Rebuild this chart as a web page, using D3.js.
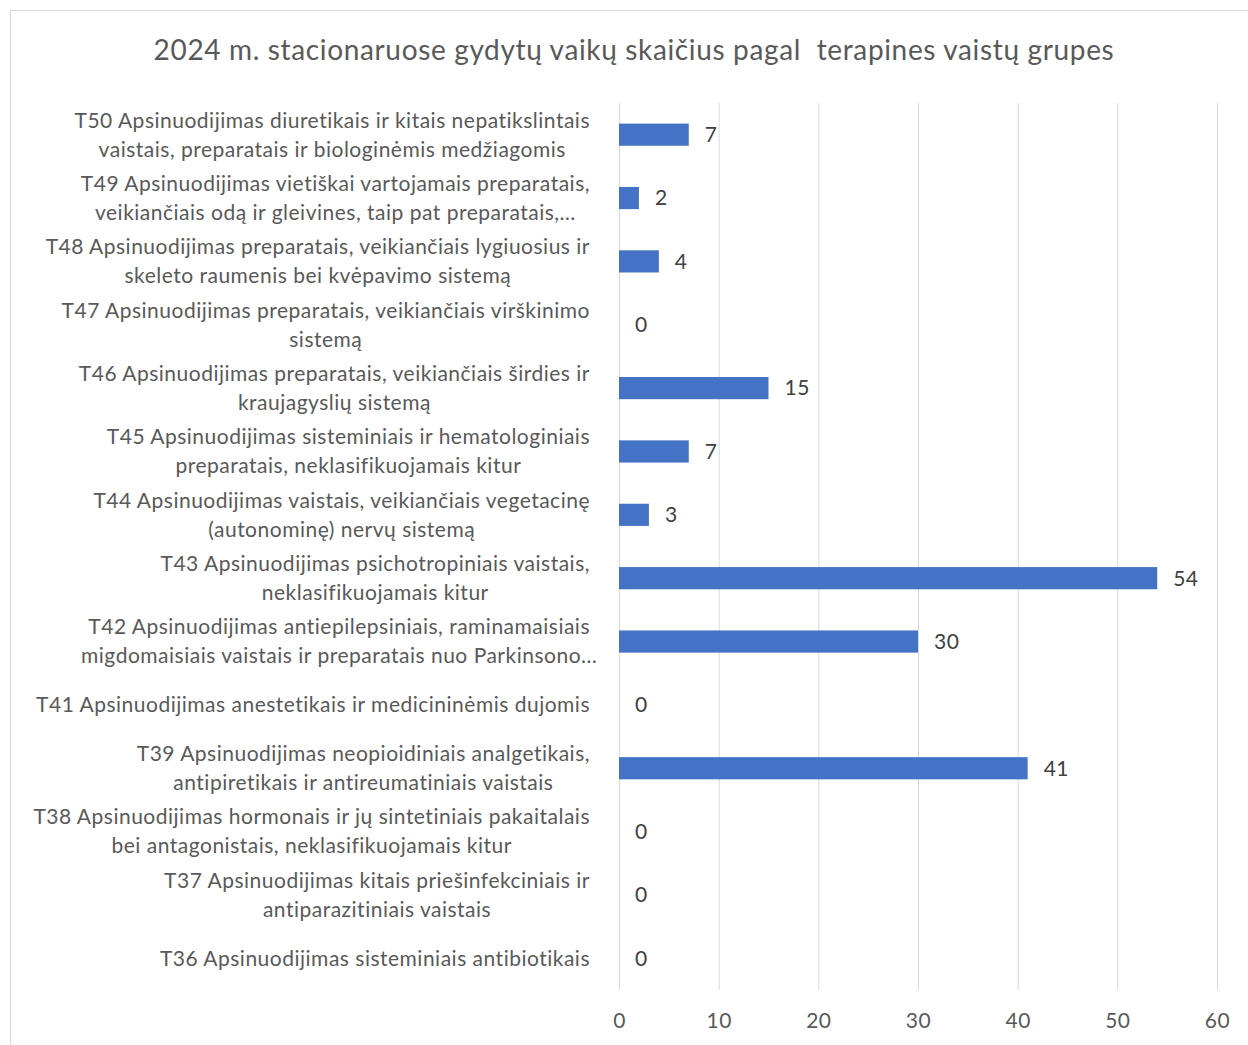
<!DOCTYPE html>
<html>
<head>
<meta charset="utf-8">
<script src="https://cdn.jsdelivr.net/npm/d3@7"></script>
<style>
  body { margin: 0; background: #fff; }
  text { font-family: Lato, "Open Sans", sans-serif; }
</style>
</head>
<body>
<svg width="1248" height="1045"></svg>
<script>
// kategorijos (eilutes po viena), is virsaus i apacia
var categories = [
  ["T50 Apsinuodijimas diuretikais ir kitais nepatikslintais", "vaistais, preparatais ir biologinėmis medžiagomis"],
  ["T49 Apsinuodijimas vietiškai vartojamais preparatais,", "veikiančiais odą ir gleivines, taip pat preparatais,…"],
  ["T48 Apsinuodijimas preparatais, veikiančiais lygiuosius ir", "skeleto raumenis bei kvėpavimo sistemą"],
  ["T47 Apsinuodijimas preparatais, veikiančiais virškinimo", "sistemą"],
  ["T46 Apsinuodijimas preparatais, veikiančiais širdies ir", "kraujagyslių sistemą"],
  ["T45 Apsinuodijimas sisteminiais ir hematologiniais", "preparatais, neklasifikuojamais kitur"],
  ["T44 Apsinuodijimas vaistais, veikiančiais vegetacinę", "(autonominę) nervų sistemą"],
  ["T43 Apsinuodijimas psichotropiniais vaistais,", "neklasifikuojamais kitur"],
  ["T42 Apsinuodijimas antiepilepsiniais, raminamaisiais", "migdomaisiais vaistais ir preparatais nuo Parkinsono…"],
  ["T41 Apsinuodijimas anestetikais ir medicininėmis dujomis"],
  ["T39 Apsinuodijimas neopioidiniais analgetikais,", "antipiretikais ir antireumatiniais vaistais"],
  ["T38 Apsinuodijimas hormonais ir jų sintetiniais pakaitalais", "bei antagonistais, neklasifikuojamais kitur"],
  ["T37 Apsinuodijimas kitais priešinfekciniais ir", "antiparazitiniais vaistais"],
  ["T36 Apsinuodijimas sisteminiais antibiotikais"]
];
var values = [7, 2, 4, 0, 15, 7, 3, 54, 30, 0, 41, 0, 0, 0];
var xTicks = [0, 10, 20, 30, 40, 50, 60];
var title = "2024 m. stacionaruose gydytų vaikų skaičius pagal\u00a0 terapines vaistų grupes";

var svg = d3.select("svg"),
    margin = { top: 103, right: 31, bottom: 55, left: 619 },
    width = 1248 - margin.left - margin.right,
    height = 1045 - margin.top - margin.bottom;

// remelis aplink diagrama
svg.append("rect")
    .attr("x", 10.5).attr("y", 10.5)
    .attr("width", 1300).attr("height", 1100)
    .attr("fill", "none").attr("stroke", "#d9d9d9");

svg.append("text")
    .attr("x", 634).attr("y", 60)
    .attr("text-anchor", "middle")
    .style("font-size", "28px")
    .style("letter-spacing", "0.65px")
    .style("fill", "#595959")
    .text(title);

var x = d3.scaleLinear().domain([0, 60]).range([0, width]),
    y = d3.scaleBand().domain(d3.range(categories.length)).range([0, height]).paddingInner(0.65).paddingOuter(0.325);

var g = svg.append("g")
    .attr("transform", "translate(" + margin.left + "," + margin.top + ")");

// tinklelis ir x asis
var xAxis = g.append("g")
    .attr("transform", "translate(0," + height + ")")
    .call(d3.axisBottom(x).tickValues(xTicks).tickSize(-height).tickPadding(23));
xAxis.select(".domain").remove();
xAxis.selectAll("line").attr("stroke", "#d9d9d9");
xAxis.selectAll("text")
    .style("font-size", "21px")
    .style("letter-spacing", "0.5px")
    .style("font-family", "Lato, sans-serif")
    .style("fill", "#595959");

g.selectAll(".bar")
  .data(values)
  .enter().append("rect")
    .attr("class", "bar")
    .attr("x", x(0))
    .attr("y", function(d, i) { return y(i); })
    .attr("width", function(d) { return x(d) - x(0); })
    .attr("height", y.bandwidth())
    .style("fill", "#4472c4");

g.selectAll(".val")
  .data(values)
  .enter().append("text")
    .attr("class", "val")
    .attr("x", function(d) { return x(d) + 16; })
    .attr("y", function(d, i) { return y(i) + y.bandwidth() / 2; })
    .attr("dy", "0.35em")
    .style("font-size", "21px")
    .style("letter-spacing", "0.5px")
    .style("fill", "#404040")
    .text(function(d) { return d; });

// kategoriju pavadinimai: eilutes centruotos pagal pirma eilute, blokas lygiuotas desineje
var lineH = 29, rightEdge = -29;
var lab = g.selectAll(".lab")
  .data(categories)
  .enter().append("text")
    .attr("class", "lab")
    .style("font-size", "21px")
    .style("letter-spacing", "0.5px")
    .style("fill", "#595959")
    .attr("text-anchor", "middle");

lab.each(function(lines, i) {
  var t = d3.select(this),
      cy = y(i) + y.bandwidth() / 2,
      y0 = cy - (lines.length - 1) * lineH / 2;
  lines.forEach(function(s, k) {
    t.append("tspan").attr("y", y0 + k * lineH).attr("dy", "0.35em").text(s);
  });
  var w0 = t.select("tspan").node().getComputedTextLength();
  t.selectAll("tspan").attr("x", rightEdge - w0 / 2);
});
</script>
</body>
</html>
